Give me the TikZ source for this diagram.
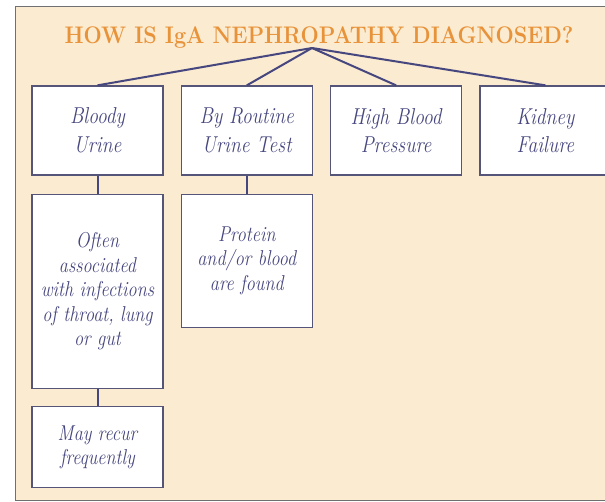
\documentclass[tikz,border=0pt]{standalone}
\usepackage{xcolor}
\usepackage{fontspec}
\newfontfamily\boxfont{Latin Modern Roman}[FakeStretch=0.85]
\newfontfamily\titlefont{Latin Modern Roman}[FakeStretch=0.9]
\usetikzlibrary{positioning}
\definecolor{paperbeige}{HTML}{FBEBD1}
\definecolor{titleorange}{HTML}{E8933A}
\definecolor{inkblue}{HTML}{474780}
\definecolor{edgegray}{HTML}{55557A}
\definecolor{framegray}{HTML}{707070}

\begin{document}
\begin{tikzpicture}[
  x=1pt, y=-1pt,
  box/.style={rectangle, draw=edgegray, fill=white, line width=1.3pt, minimum width=131pt, minimum height=89pt, align=center, inner sep=2pt, text=inkblue, font=\boxfont\fontsize{23}{28.5}\selectfont\itshape},
  subbox/.style={box, font=\boxfont\fontsize{21.5}{24.5}\selectfont\itshape},
  link/.style={draw=inkblue, line width=2pt}
]
  \useasboundingbox (0,0) rectangle (605,502);
  \fill[paperbeige] (15,7) rectangle (605,500);
  \draw[framegray, line width=1pt] (605,7) -- (15,7) -- (15,500) -- (605,500);
  \node[anchor=base, text=titleorange, font=\titlefont\fontsize{24}{24}\selectfont\bfseries] (title) at (319,44) {HOW IS IgA NEPHROPATHY DIAGNOSED?};
  \coordinate (hub) at (312,48);
  \node[box] (blood) at (97.5,130.5) {Bloody\\Urine};
  \node[box, right=17pt of blood] (routine) {By Routine\\Urine Test};
  \node[box, right=17pt of routine] (pressure) {High Blood\\Pressure};
  \node[box, right=17pt of pressure] (failure) {Kidney\\Failure};
  \node[subbox, below=18pt of blood, minimum height=194pt] (infect) {Often\\associated\\with infections\\of throat, lung\\or gut};
  \node[subbox, below=18pt of routine, minimum height=133pt] (protein) {Protein\\and/or blood\\are found};
  \node[subbox, below=17pt of infect, minimum height=81pt] (recur) {May recur\\frequently};
  \foreach \n in {blood, routine, pressure, failure}
    \draw[link] (hub) -- (\n.north);
  \draw[link] (blood) -- (infect);
  \draw[link] (routine) -- (protein);
  \draw[link] (infect) -- (recur);
\end{tikzpicture}
\end{document}
